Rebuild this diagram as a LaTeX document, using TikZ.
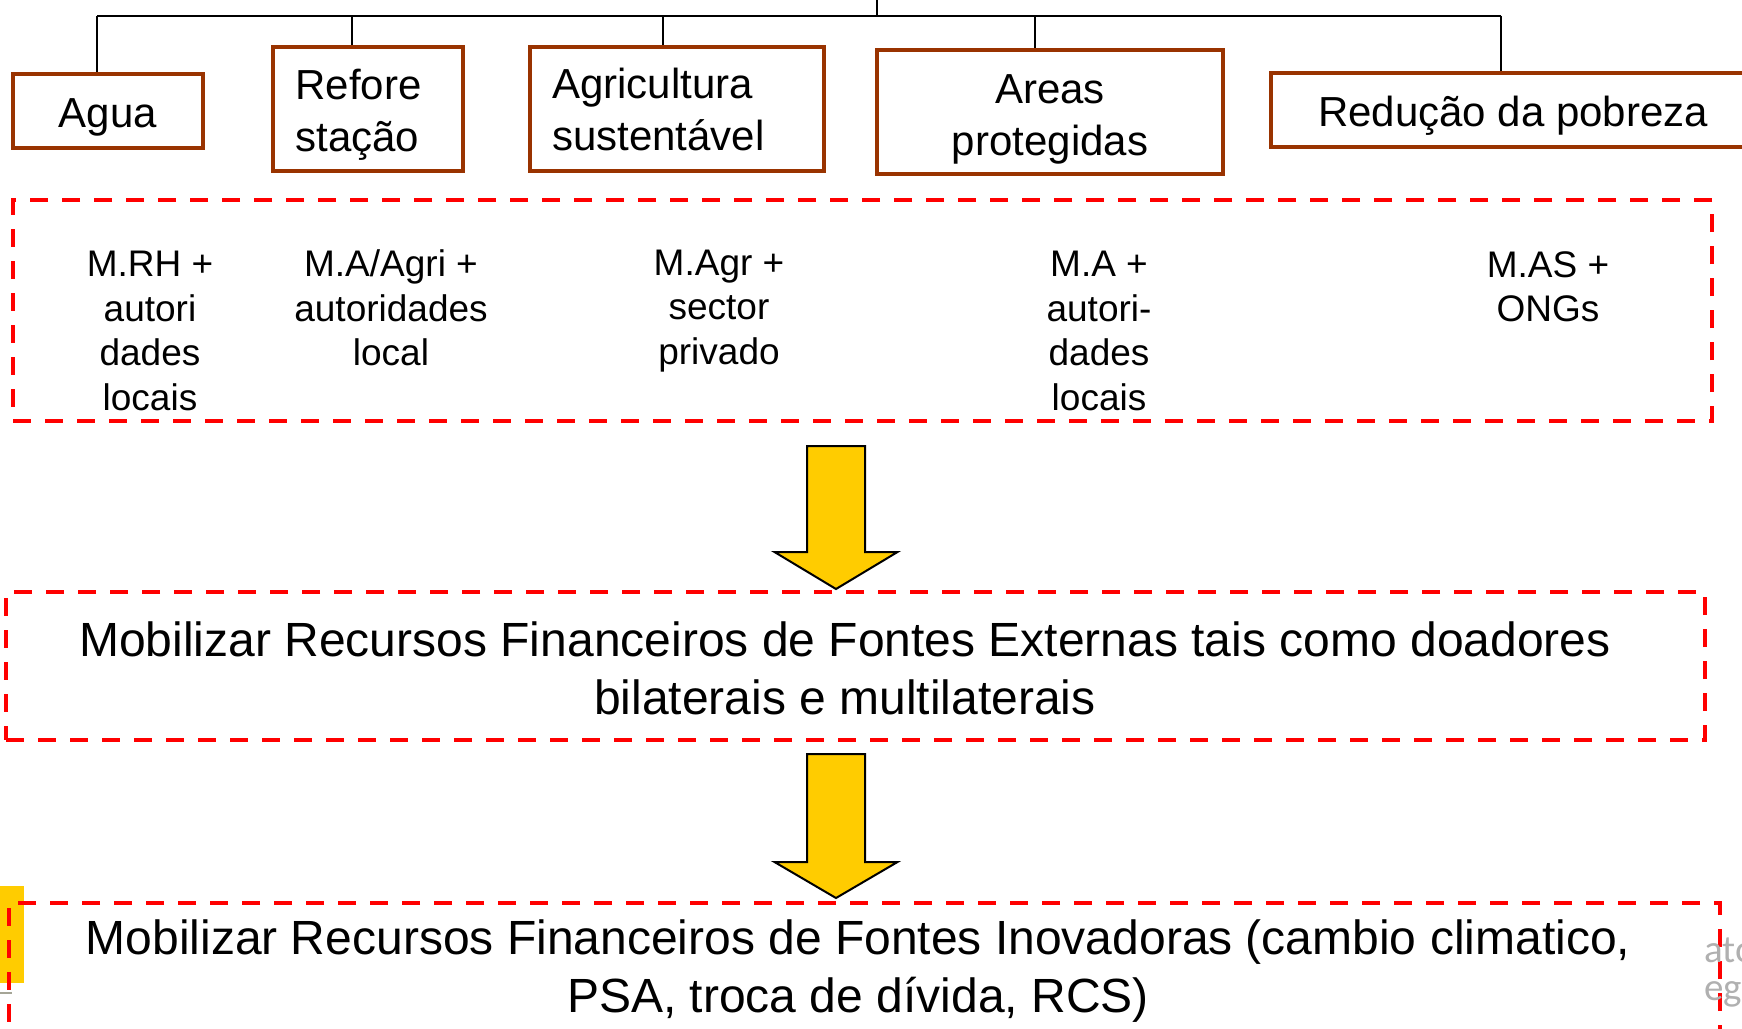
\documentclass[tikz,border=0pt]{standalone}
\usepackage{fontspec}
\setmainfont{Liberation Sans}
\newfontfamily\grayfont{Carlito}
\definecolor{boxbrown}{RGB}{153,51,0}
\definecolor{zonered}{RGB}{255,0,0}
\definecolor{arrowyellow}{RGB}{255,204,0}
\definecolor{fadegray}{RGB}{176,176,176}
\definecolor{tickgray}{RGB}{165,165,150}
\begin{document}
\begin{tikzpicture}[x=1pt,y=-1pt,
  topbox/.style={draw=boxbrown, line width=4pt, inner sep=0pt, font=\fontsize{42}{52}\selectfont, align=center,
    execute at begin node={\rule{0pt}{41pt}}},
  zone/.style={draw=zonered, line width=4pt, dash pattern=on 18pt off 14pt, inner sep=0pt},
  bus/.style={line width=2pt, draw=black},
  actor/.style={font=\fontsize{37}{44.4}\selectfont, align=center, inner sep=0pt},
  bigtext/.style={font=\fontsize{48}{58}\selectfont, align=center, inner sep=0pt},
  blockarrow/.style={fill=arrowyellow, draw=black, line width=2pt, line join=miter},
  fadetext/.style={anchor=west, inner sep=0pt, text=fadegray, font=\grayfont\fontsize{39}{40}\selectfont}]
\useasboundingbox (0,0) rectangle (1742,1028);
\clip (0,0) rectangle (1742,1028);

% top boxes
\node[topbox, minimum width=190pt, minimum height=74pt] (agua) at (108,111) {Agua};
\node[topbox, minimum width=190pt, minimum height=124pt, text width=145pt, align=left] (refore) at (368,109) {Refore\\stação};
\node[topbox, minimum width=294pt, minimum height=124pt, text width=250pt, align=left, execute at end node={\rule[-10pt]{0pt}{10pt}}] (agri) at (677,109) {Agricultura\\sustentável};
\node[topbox, minimum width=346pt, minimum height=124pt, text width=300pt, align=center, execute at begin node={\rule{0pt}{43pt}}] (areas) at (1050,112) {Areas\\protegidas};
\node[topbox, minimum width=484pt, minimum height=74pt] (pobreza) at (1513,110) {Redução da pobreza};

% connector tree
\coordinate (root) at (877,0);
\coordinate (b1) at (97,15.5);
\coordinate (b2) at (352,15.5);
\coordinate (b3) at (663,15.5);
\coordinate (b4) at (1035,15.5);
\coordinate (b5) at (1501,15.5);
\draw[bus] (b1) -- (b5);
\draw[bus] (root) -- (root |- b1);
\draw[bus] (b1) -- (b1 |- agua.north);
\draw[bus] (b2) -- (b2 |- refore.north);
\draw[bus] (b3) -- (b3 |- agri.north);
\draw[bus] (b4) -- (b4 |- areas.north);
\draw[bus] (b5) -- (b5 |- pobreza.north);

% zone 1
\node[zone, minimum width=1699pt, minimum height=221pt] (zone1) at (862.5,310.5) {};
\node[actor] (c1) at (150,331) {M.RH +\\autori\\dades\\locais};
\node[actor] (c2) at (391,308) {M.A/Agri +\\autoridades\\local};
\node[actor] (c3) at (719,311) {M.Agr +\\sector\\privado};
\node[actor] (c4) at (1099,331) {M.A +\\autori-\\dades\\locais};
\node[actor] (c5) at (1548,287) {M.AS +\\ONGs};

% arrow 1
\filldraw[blockarrow, shift={(836,446)}] (-29,0) -- (29,0) -- (29,106) -- (61.5,106) -- (0,143) -- (-61.5,106) -- (-29,106) -- cycle;

% zone 2
\node[zone, minimum width=1699pt, minimum height=148pt] (zone2) at (855.5,666) {};
\node[bigtext] (t2) at (845,668) {Mobilizar Recursos Financeiros de Fontes Externas tais como doadores\\bilaterais e multilaterais};

% arrow 2
\filldraw[blockarrow, shift={(836,754)}] (-29,0) -- (29,0) -- (29,108) -- (61.5,108) -- (0,144) -- (-61.5,108) -- (-29,108) -- cycle;

% left-edge fragments
\fill[arrowyellow] (0,886) rectangle (24,983);
\draw[tickgray, line width=2pt] (0,993) -- (12,993);

% zone 3
\node[zone, minimum width=1711pt, minimum height=157pt] (zone3) at (864.5,981.5) {};
\node[bigtext] (t3) at (858,971) {Mobilizar Recursos Financeiros de Fontes Inovadoras (cambio climatico,\\PSA, troca de dívida, RCS)};

% faded text fragments at right edge (cut off by the page edge, as in the reference)
\node[fadetext] (g1) at (1704,950) {ato};
\node[fadetext] (g2) at (1704,990) {egi};
\end{tikzpicture}
\end{document}
